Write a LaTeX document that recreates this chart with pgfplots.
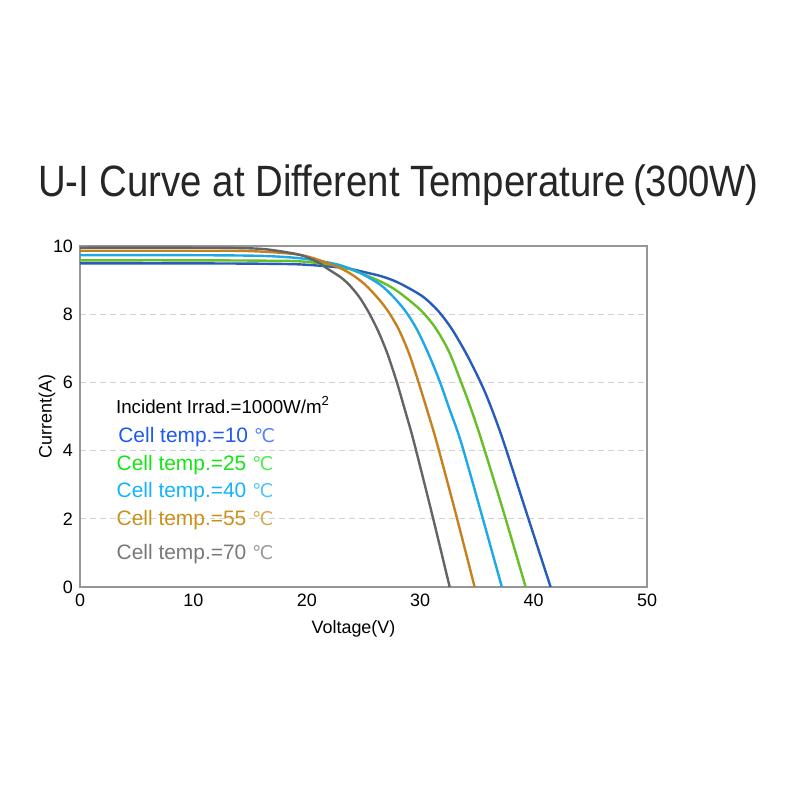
\documentclass[border=0pt]{standalone}
\usepackage{fontspec}
\setmainfont{Liberation Sans}
\newfontfamily\titlefont[FakeStretch=0.875]{Liberation Sans}
\newfontfamily\sym{DejaVu Sans}
\usepackage{pgfplots}
\pgfplotsset{compat=1.18}

\definecolor{c10}{RGB}{38,92,186}
\definecolor{c25}{RGB}{102,190,40}
\definecolor{c40}{RGB}{30,168,230}
\definecolor{c55}{RGB}{200,128,30}
\definecolor{c70}{RGB}{100,100,100}
\definecolor{t10}{RGB}{30,90,240}
\definecolor{t25}{RGB}{20,230,20}
\definecolor{t40}{RGB}{20,180,250}
\definecolor{t55}{RGB}{200,145,25}
\definecolor{t70}{RGB}{120,120,120}
\definecolor{axisgray}{RGB}{150,150,150}

\newcommand{\degC}[1]{{\color{#1!75!white}\sym\fontsize{9.5}{10}\selectfont ℃}}

\begin{document}
\begin{tikzpicture}
\path[use as bounding box] (-40bp,-106.5bp) rectangle (360bp,293.5bp);
\begin{axis}[
    scale only axis,
    width=283.5bp, height=170.5bp,
    xmin=0, xmax=50, ymin=0, ymax=10,
    xtick={0,10,20,30,40,50},
    ytick={0,2,4,6,8,10},
    major tick length=0pt,
    axis line style={axisgray, line width=1bp},
    ymajorgrids,
    grid style={densely dashed, gray!35, line width=0.6bp},
    tick label style={font=\fontsize{9}{11}\selectfont},
    /pgf/number format/assume math mode=true,
    xlabel={Voltage(V)}, ylabel={Current(A)},
    label style={font=\fontsize{9}{10}\selectfont},
    xlabel style={xshift=-5bp},
    ylabel style={yshift=-8bp},
    title={U-I Curve at Different Temperature\,(300W)},
    title style={at={(0.53,1)}, anchor=base, xshift=9bp, yshift=19bp, font=\titlefont\fontsize{22}{26}\selectfont, text=black!85},
    clip=false,
]
\addplot[c10, line width=1.2bp, smooth] coordinates {
(0,9.49)(10,9.49)(16,9.48)(19.4,9.46)(22.3,9.39)(23.8,9.33)(25,9.24)(26.5,9.12)
(27.7,8.98)(28.8,8.8)(30.3,8.5)(31.6,8.09)(32.8,7.56)(34.1,6.82)(35.3,6.02)
(36.1,5.4)(37.3,4.31)(39.4,2.15)(41.5,0)};
\addplot[c25, line width=1.2bp, smooth] coordinates {
(0,9.58)(10,9.58)(16,9.57)(19.4,9.55)(22.3,9.44)(23.8,9.32)(25,9.17)(26.5,8.96)
(27.7,8.74)(28.8,8.47)(30.1,8.1)(31.3,7.62)(32.5,6.93)(33.5,6.1)(34.4,5.3)
(35.4,4.31)(37.4,2.15)(39.3,0)};
\addplot[c40, line width=1.2bp, smooth] coordinates {
(0,9.73)(10,9.73)(16,9.71)(19.4,9.64)(22.3,9.49)(23.8,9.34)(25,9.16)(26.5,8.86)
(27.6,8.52)(28.7,8.09)(29.7,7.56)(30.7,6.86)(31.7,6.05)(32.6,5.2)(33.6,4.25)
(35.4,2.15)(37.2,0)};
\addplot[c55, line width=1.2bp, smooth] coordinates {
(0,9.86)(10,9.86)(15,9.85)(19.4,9.74)(22.3,9.44)(23.8,9.2)(25.1,8.88)(26.3,8.46)
(27.2,8.07)(28.1,7.56)(29,6.86)(29.8,6.06)(30.6,5.2)(31.45,4.25)(33.1,2.2)(34.8,0)};
\addplot[c70, line width=1.2bp, smooth] coordinates {
(0,9.95)(10,9.95)(14,9.94)(16.5,9.9)(19.4,9.74)(21,9.52)(21.75,9.35)(23,9.08)
(23.8,8.84)(24.7,8.47)(25.5,8.03)(26.3,7.5)(27.1,6.85)(27.9,6.05)(28.6,5.25)
(29.4,4.31)(31,2.2)(32.6,0)};
\begin{scope}[every node/.style={anchor=base west, inner sep=0pt}]
\node[font=\fontsize{9.4}{10}\selectfont] at (axis cs:3.15,5.1) {Incident Irrad.=1000W/m\textsuperscript{2}};
\node[text=t10, font=\fontsize{10.5}{12}\selectfont] at (axis cs:3.35,4.25) {Cell temp.=10 \degC{t10}};
\node[text=t25, font=\fontsize{10.5}{12}\selectfont] at (axis cs:3.2,3.43) {Cell temp.=25 \degC{t25}};
\node[text=t40, font=\fontsize{10.5}{12}\selectfont] at (axis cs:3.2,2.61) {Cell temp.=40 \degC{t40}};
\node[text=t55, font=\fontsize{10.5}{12}\selectfont] at (axis cs:3.2,1.79) {Cell temp.=55 \degC{t55}};
\node[text=t70, font=\fontsize{10.5}{12}\selectfont] at (axis cs:3.2,0.82) {Cell temp.=70 \degC{t70}};
\end{scope}
\end{axis}
\end{tikzpicture}
\end{document}
